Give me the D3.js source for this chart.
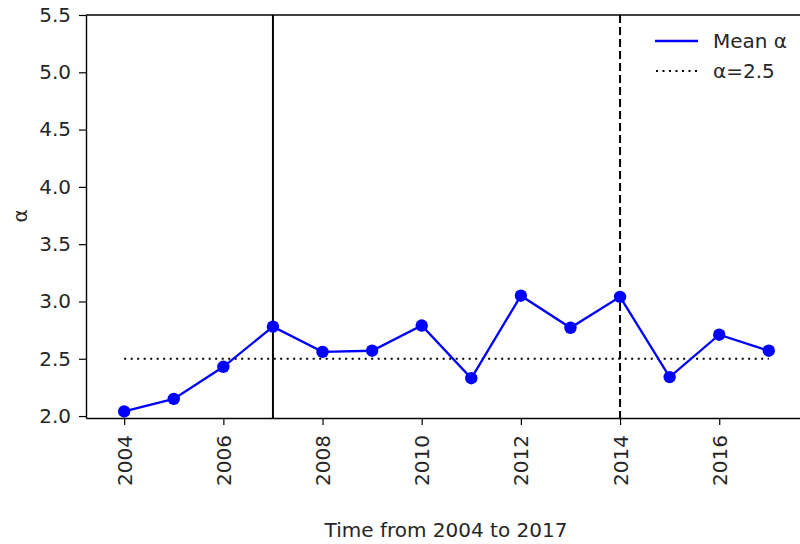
<!DOCTYPE html>
<html>
<head>
<meta charset="utf-8">
<script src="https://cdn.jsdelivr.net/npm/d3@7"></script>
<style>
  body { margin: 0; background: #fff; }
  text { font-family: "DejaVu Sans", sans-serif; fill: #262626; }
</style>
</head>
<body>
<div id="chart"></div>
<script>
var years = [2004, 2005, 2006, 2007, 2008, 2009, 2010, 2011, 2012, 2013, 2014, 2015, 2016, 2017];
var meanAlpha = [2.04, 2.15, 2.43, 2.78, 2.56, 2.57, 2.79, 2.33, 3.05, 2.77, 3.04, 2.34, 2.71, 2.57];
var refAlpha = 2.5;
var solidYear = 2007;
var dashedYear = 2014;
var xTicks = [2004, 2006, 2008, 2010, 2012, 2014, 2016];
var yTicks = [2.0, 2.5, 3.0, 3.5, 4.0, 4.5, 5.0, 5.5];
var legendLabels = ["Mean \u03b1", "\u03b1=2.5"];

var width = 800, height = 544;
var mLeft = 86, mRight = 807, mTop = 15, mBottom = 418;
var fs = "20px";

var svg = d3.select("#chart").append("svg")
  .attr("width", width)
  .attr("height", height);

var x = d3.scaleLinear().domain([2003.23, 2017.77]).range([mLeft, mRight]);
var y = d3.scaleLinear().domain([1.983, 5.5]).range([mBottom, mTop]);

// reference line alpha = 2.5
svg.append("line")
  .attr("x1", x(years[0])).attr("x2", x(years[years.length - 1]))
  .attr("y1", y(refAlpha)).attr("y2", y(refAlpha))
  .attr("stroke", "black").attr("stroke-width", 2)
  .attr("stroke-dasharray", "2,4.5");

// vertical markers
svg.append("line")
  .attr("x1", x(solidYear)).attr("x2", x(solidYear))
  .attr("y1", mTop).attr("y2", mBottom)
  .attr("stroke", "black").attr("stroke-width", 2);

svg.append("line")
  .attr("x1", x(dashedYear)).attr("x2", x(dashedYear))
  .attr("y1", mTop).attr("y2", mBottom)
  .attr("stroke", "black").attr("stroke-width", 2)
  .attr("stroke-dasharray", "8,4");

// mean alpha series
var line = d3.line()
  .x(function(d, i) { return x(years[i]); })
  .y(function(d) { return y(d); });

svg.append("path")
  .datum(meanAlpha)
  .attr("d", line)
  .attr("fill", "none")
  .attr("stroke", "#0000ff")
  .attr("stroke-width", 2.3);

svg.selectAll(".pt")
  .data(meanAlpha)
  .enter().append("circle")
  .attr("class", "pt")
  .attr("cx", function(d, i) { return x(years[i]); })
  .attr("cy", function(d) { return y(d); })
  .attr("r", 6.2)
  .attr("fill", "#0000ff");

// axes
var xAxis = svg.append("g")
  .attr("transform", "translate(0," + mBottom + ")")
  .call(d3.axisBottom(x).tickValues(xTicks).tickFormat(d3.format("d")).tickSize(7).tickSizeOuter(0));
xAxis.selectAll("text")
  .attr("transform", "rotate(-90)")
  .attr("text-anchor", "end")
  .attr("x", -17).attr("y", 0).attr("dy", "0.35em");

var yAxis = svg.append("g")
  .attr("transform", "translate(" + mLeft + ",0)")
  .call(d3.axisLeft(y).tickValues(yTicks).tickFormat(d3.format(".1f")).tickSize(7).tickSizeOuter(0));
yAxis.selectAll("text").attr("x", -15);

svg.selectAll(".tick text").style("font-size", fs).attr("fill", "#262626");
svg.selectAll(".tick line").attr("stroke", "#000").attr("stroke-width", 1.2);
svg.selectAll(".domain").attr("stroke", "#000").attr("stroke-width", 1.4);

// top spine
svg.append("line")
  .attr("x1", mLeft).attr("x2", mRight)
  .attr("y1", mTop).attr("y2", mTop)
  .attr("stroke", "#000").attr("stroke-width", 1.4);

// axis labels
svg.append("text")
  .attr("x", 446).attr("y", 537)
  .attr("text-anchor", "middle")
  .style("font-size", fs)
  .text("Time from 2004 to 2017");

svg.append("text")
  .attr("transform", "translate(27,216) rotate(-90)")
  .attr("text-anchor", "middle")
  .style("font-size", fs)
  .text("\u03b1");

// legend
var lg = svg.append("g");
lg.append("line")
  .attr("x1", 655).attr("x2", 698).attr("y1", 41).attr("y2", 41)
  .attr("stroke", "#0000ff").attr("stroke-width", 2.3);
lg.append("line")
  .attr("x1", 656).attr("x2", 698).attr("y1", 71).attr("y2", 71)
  .attr("stroke", "black").attr("stroke-width", 2)
  .attr("stroke-dasharray", "2,4.5");
lg.selectAll(".lt")
  .data(legendLabels)
  .enter().append("text")
  .attr("class", "lt")
  .attr("x", 713)
  .attr("y", function(d, i) { return 41 + i * 30; })
  .attr("dy", "0.35em")
  .style("font-size", fs)
  .text(function(d) { return d; });
</script>
</body>
</html>
